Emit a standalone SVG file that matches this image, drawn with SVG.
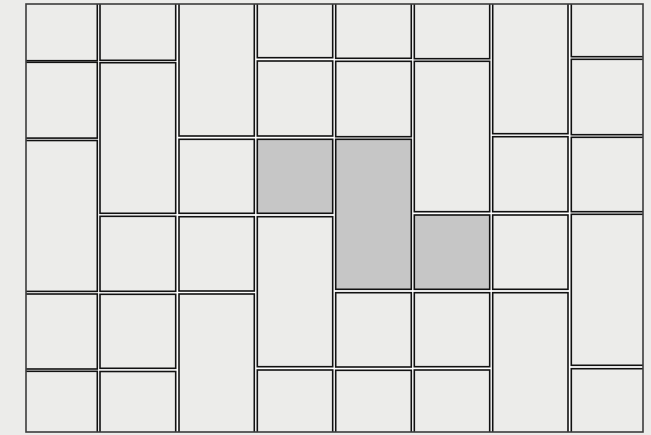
<svg xmlns="http://www.w3.org/2000/svg" width="651" height="435" viewBox="0 0 651 435">
<style>
.c{fill:#ececea;stroke:#111111;stroke-width:1.6}
.g{fill:#c6c6c6;stroke:#111111;stroke-width:1.6}
</style>
<defs><clipPath id="clip"><rect x="26" y="4" width="617" height="428"/></clipPath></defs>
<rect width="651" height="435" fill="#ececea"/>
<rect x="26" y="4" width="617" height="428" fill="#ffffff"/>
<g id="tiles" clip-path="url(#clip)">
<g id="col1">
<rect class="c" x="21.6" y="-15" width="75.7" height="75.7"/>
<rect class="c" x="21.6" y="62.3" width="75.7" height="75.8"/>
<rect class="c" x="21.6" y="140.5" width="75.7" height="150.9"/>
<rect class="c" x="21.6" y="294" width="75.7" height="75"/>
<rect class="c" x="21.6" y="371.3" width="75.7" height="75.7"/>
</g>
<g id="col2">
<rect class="c" x="100" y="-15" width="75.7" height="75.3"/>
<rect class="c" x="100" y="62.7" width="75.7" height="150.6"/>
<rect class="c" x="100" y="216.3" width="75.7" height="75"/>
<rect class="c" x="100" y="294.3" width="75.7" height="74"/>
<rect class="c" x="100" y="371.5" width="75.7" height="75.5"/>
</g>
<g id="col3">
<rect class="c" x="179" y="-15" width="75.3" height="151"/>
<rect class="c" x="179" y="139.3" width="75.3" height="74"/>
<rect class="c" x="179" y="216.7" width="75.3" height="74.3"/>
<rect class="c" x="179" y="294" width="75.3" height="153"/>
</g>
<g id="col4">
<rect class="c" x="257.3" y="-15" width="75.4" height="72.7"/>
<rect class="c" x="257.3" y="61" width="75.4" height="75"/>
<rect class="g" x="257.3" y="139.3" width="75.4" height="74"/>
<rect class="c" x="257.3" y="216.7" width="75.4" height="150"/>
<rect class="c" x="257.3" y="370" width="75.4" height="77"/>
</g>
<g id="col5">
<rect class="c" x="335.7" y="-15" width="75.6" height="73.3"/>
<rect class="c" x="335.7" y="61.3" width="75.6" height="75.4"/>
<rect class="g" x="335.7" y="139.3" width="75.6" height="150"/>
<rect class="c" x="335.7" y="292.7" width="75.6" height="74.3"/>
<rect class="c" x="335.7" y="370.3" width="75.6" height="76.7"/>
</g>
<g id="col6">
<rect class="c" x="414.3" y="-15" width="75.4" height="73.7"/>
<rect class="c" x="414.3" y="61.3" width="75.4" height="150.4"/>
<rect class="g" x="414.3" y="215" width="75.4" height="74.3"/>
<rect class="c" x="414.3" y="292.7" width="75.4" height="74"/>
<rect class="c" x="414.3" y="370" width="75.4" height="77"/>
</g>
<g id="col7">
<rect class="c" x="492.7" y="-15" width="75.3" height="148.7"/>
<rect class="c" x="492.7" y="136.7" width="75.3" height="75"/>
<rect class="c" x="492.7" y="215" width="75.3" height="74.3"/>
<rect class="c" x="492.7" y="292.7" width="75.3" height="154.3"/>
</g>
<g id="col8">
<rect class="c" x="571.3" y="-15" width="75.5" height="71.7"/>
<rect class="c" x="571.3" y="59.3" width="75.5" height="75.4"/>
<rect class="c" x="571.3" y="137.3" width="75.5" height="74.4"/>
<rect class="c" x="571.3" y="214.3" width="75.5" height="151"/>
<rect class="c" x="571.3" y="368.7" width="75.5" height="78.3"/>
</g>
</g>
<rect id="frame" x="26" y="4" width="617" height="428" fill="none" stroke="#3c3c3c" stroke-width="1.6"/>
</svg>
